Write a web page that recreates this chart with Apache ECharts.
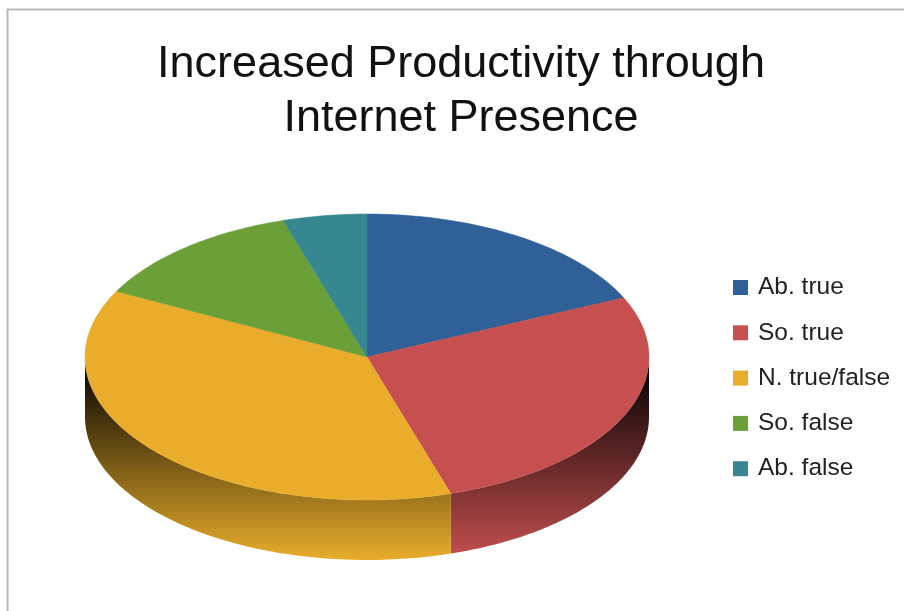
<!DOCTYPE html>
<html>
<head>
<meta charset="utf-8">
<style>html,body{margin:0;padding:0;background:#fff}#c{width:904px;height:611px;filter:blur(0.5px)}</style>
<script src="https://cdn.jsdelivr.net/npm/echarts@6/dist/echarts.min.js"></script>
</head>
<body>
<div id="c"></div>
<script>
var categories = ['Ab. true', 'So. true', 'N. true/false', 'So. false', 'Ab. false'];
var shares = [18.2, 27.0, 37.4, 12.6, 4.8];
var colors = ['#2f6098', '#c5504f', '#e9ad2b', '#6b9f38', '#36878f'];
var titleLines = ['Increased Productivity through', 'Internet Presence'];

var CX = 367, CY = 357, RX = 282, RY = 143, DEPTH = 60;
var total = shares.reduce(function (a, b) { return a + b; }, 0);

function point(deg, dy) {
  var r = deg * Math.PI / 180;
  return [CX + RX * Math.sin(r), CY - RY * Math.cos(r) + (dy || 0)];
}
function arc(a0, a1, dy) {
  var pts = [], n = Math.max(2, Math.ceil(Math.abs(a1 - a0)));
  for (var i = 0; i <= n; i++) pts.push(point(a0 + (a1 - a0) * i / n, dy));
  return pts;
}
function wallFill(color) {
  return {
    type: 'linear', global: true, x: 0, y: CY + 4, x2: 0, y2: CY + RY + DEPTH,
    colorStops: [{ offset: 0, color: '#000000' }, { offset: 1, color: color }]
  };
}
function sliceRenderer(index) {
  return function (params, api) {
    var before = 0;
    for (var i = 0; i < index; i++) before += shares[i];
    var a0 = before / total * 360;
    var a1 = a0 + api.value(0) / total * 360;
    var children = [];
    var w0 = Math.max(a0, 90), w1 = Math.min(a1, 270);
    if (w1 > w0) {
      var upper = arc(w0, w1, 0), lower = arc(w1, w0, DEPTH);
      children.push({
        type: 'polygon',
        shape: { points: upper.concat(lower) },
        style: { fill: wallFill(colors[index]), stroke: null }
      });
    }
    children.push({
      type: 'polygon',
      shape: { points: [[CX, CY]].concat(arc(a0, a1, 0)) },
      style: { fill: colors[index], stroke: colors[index], lineWidth: 0.5 }
    });
    return { type: 'group', children: children };
  };
}

var chart = echarts.init(document.getElementById('c'), null, { renderer: 'canvas' });
chart.setOption({
  animation: false,
  backgroundColor: '#ffffff',
  title: {
    text: titleLines.join('\n'),
    left: 456, top: 33, textAlign: 'center',
    textStyle: { fontFamily: 'Liberation Sans', fontSize: 45, fontWeight: 'normal', color: '#111', lineHeight: 54 }
  },
  legend: {
    orient: 'vertical', left: 728, top: 270,
    itemWidth: 15, itemHeight: 15, itemGap: 20.3, icon: 'rect', selectedMode: false,
    data: categories,
    textStyle: { fontFamily: 'Liberation Sans', fontSize: 24.5, lineHeight: 24, color: '#222', padding: [0, 0, 0, 5] }
  },
  graphic: [{
    type: 'polyline', silent: true,
    shape: { points: [[7.5, 611], [7.5, 9.5], [904, 9.5]] },
    style: { stroke: '#b9b9b9', lineWidth: 2, fill: null }
  }],
  series: categories.map(function (name, i) {
    return {
      type: 'custom', name: name, coordinateSystem: 'none',
      itemStyle: { color: colors[i] },
      renderItem: sliceRenderer(i),
      data: [[shares[i]]]
    };
  })
});
</script>
</body>
</html>
